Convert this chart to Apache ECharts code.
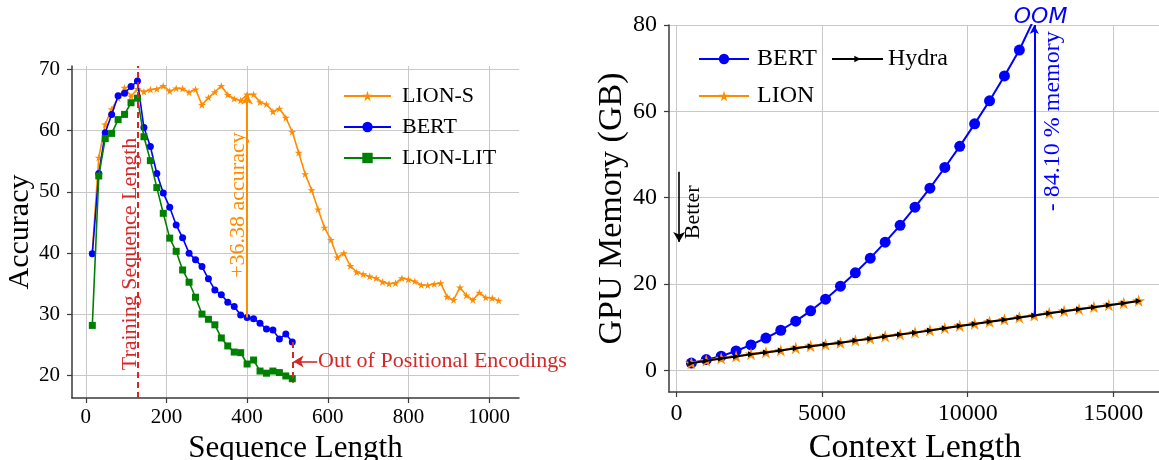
<!DOCTYPE html>
<html><head><meta charset="utf-8">
<script src="https://cdn.jsdelivr.net/npm/echarts@6/dist/echarts.min.js"></script>
<style>html,body{margin:0;padding:0;background:#fff}#c{width:1159px;height:460px}</style>
</head><body><div id="c"></div>
<script>
// ---------------- data: left panel ----------------
const seqLenShort = [16,32,48,64,80,96,112,128,144,160,176,192,208,224,240,256,272,288,304,320,336,352,368,384,400,416,432,448,464,480,496,512];
const seqLenLong = [16,32,48,64,80,96,112,128,144,160,176,192,208,224,240,256,272,288,304,320,336,352,368,384,400,416,432,448,464,480,496,512,
  528,544,560,576,592,608,624,640,656,672,688,704,720,736,752,768,784,800,816,832,848,864,880,896,912,928,944,960,976,992,1008,1024];
const lionS = [40.2,55.6,61.0,63.5,65.3,67.0,65.6,66.8,66.35,66.7,66.8,67.3,66.45,66.9,66.85,66.25,66.75,64.2,65.4,66.3,67.3,65.85,65.2,64.9,65.9,65.9,64.65,64.3,63.1,63.6,62.1,59.8,
  56.4,52.9,50.3,47.15,44.15,42.15,39.3,40.0,37.9,36.9,36.55,36.2,35.9,35.3,35.0,35.1,35.9,35.7,35.4,34.8,34.75,34.95,35.1,32.9,32.35,34.4,33.1,32.35,33.55,32.75,32.65,32.25];
const bertAcc = [39.9,53.0,59.65,62.65,65.7,66.1,67.2,68.1,60.5,57.4,53.0,49.8,47.5,44.6,42.5,40.0,38.9,37.8,35.8,34.0,33.2,32.0,31.3,29.9,29.5,29.3,28.55,27.6,27.45,26.0,26.8,25.5];
const lionLit = [28.2,52.6,58.7,59.55,61.8,62.65,64.55,65.3,59.0,55.1,50.7,46.5,42.45,40.3,37.25,35.25,32.8,30.05,29.2,28.3,26.15,24.85,23.85,23.75,21.9,22.55,20.75,20.4,20.75,20.5,19.95,19.5];
const accTicks = [20,30,40,50,60,70];
const seqTicks = [0,200,400,600,800,1000];
const trainLen = 128, compareLen = 400, posLimit = 512;
const gainLow = 29.5, gainHigh = 65.9, posBottom = 18.85;

// ---------------- data: right panel ----------------
const ctxLen = [512,1024,1536,2048,2560,3072,3584,4096,4608,5120,5632,6144,6656,7168,7680,8192,8704,9216,9728,10240,10752,11264,11776,12288,12800,13312,13824,14336,14848,15360,15872];
const bertMem = [1.7,2.5,3.3,4.5,5.9,7.5,9.3,11.4,13.8,16.5,19.5,22.6,26.0,29.7,33.6,37.8,42.2,47.0,51.9,57.1,62.45,68.2,74.2,81.5];
const lionMem = [1.7,2.3,2.8,3.25,3.8,4.2,4.65,5.2,5.65,6.0,6.4,6.95,7.4,7.9,8.35,8.8,9.3,9.8,10.35,10.8,11.3,11.8,12.3,12.75,13.3,13.75,14.2,14.7,15.15,15.6,16.15];
const hydraMem = [1.65,2.25,2.75,3.2,3.75,4.15,4.6,5.15,5.6,6.0,6.4,6.9,7.35,7.85,8.3,8.75,9.25,9.75,10.3,10.75,11.25,11.75,12.25,12.7,13.25,13.7,14.15,14.65,15.1,15.55,16.1];
const memTicks = [0,20,40,60,80];
const ctxTicks = [0,5000,10000,15000];
const oomLen = 12288, oomLow = 12.75, oomTop = 80;
const betterX = 93, betterFrom = 46, betterTo = 29.75;

const SERIF = '"Liberation Serif", "DejaVu Serif", serif';
const STAR = 'path://M0,-10L2.245,-3.09L9.511,-3.09L3.633,1.18L5.878,8.09L0,3.82L-5.878,8.09L-3.633,1.18L-9.511,-3.09L-2.245,-3.09Z';
const ORANGE = '#ff8c00', BLUE = '#0000ff', GREEN = '#008000', RED = '#d62728';
const pairs = (xs, ys) => ys.map((y, i) => [xs[i], y]);

function axis(extra, fs, ticks, margin) {
  return Object.assign({
    type: 'value',
    axisLine: {show: true, onZero: false, lineStyle: {color: '#3a3a3a', width: 1.5}},
    axisTick: {show: true, inside: false, length: 5, customValues: ticks, lineStyle: {color: '#3a3a3a', width: 1.2}},
    splitLine: {show: true, lineStyle: {color: '#c8c8c8', width: 1}},
    axisLabel: {color: '#000', fontFamily: SERIF, fontSize: fs, customValues: ticks, margin: margin,
      formatter: v => String(v)},
    nameLocation: 'middle',
  }, extra);
}

const chart = echarts.init(document.getElementById('c'), null, {renderer: 'canvas'});
const option = {
  animation: false,
  backgroundColor: '#fff',
  grid: [
    {left: 72, top: 66, width: 447, height: 332, outerBoundsMode: 'none', containLabel: false},
    {left: 669, top: 25, width: 492, height: 367, outerBoundsMode: 'none', containLabel: false}
  ],
  xAxis: [
    axis({gridIndex: 0, min: -34.4, max: 1074.4, name: 'Sequence Length', nameGap: 49,
      nameTextStyle: {fontFamily: SERIF, fontSize: 31, color: '#000', verticalAlign: 'middle'}}, 21, seqTicks, 9),
    axis({gridIndex: 1, min: -256, max: 16640, name: 'Context Length', nameGap: 53,
      nameTextStyle: {fontFamily: SERIF, fontSize: 34, color: '#000', verticalAlign: 'middle'}}, 24, ctxTicks, 10)
  ],
  yAxis: [
    axis({gridIndex: 0, min: 16.35, max: 70.55, name: 'Accuracy', nameGap: 50,
      nameTextStyle: {fontFamily: SERIF, fontSize: 30, color: '#000', verticalAlign: 'middle'}}, 21, accTicks, 12),
    axis({gridIndex: 1, min: -5, max: 80, name: 'GPU Memory (GB)', nameGap: 55,
      nameTextStyle: {fontFamily: SERIF, fontSize: 34, color: '#000', verticalAlign: 'middle'}}, 24, memTicks, 12)
  ],
  legend: [
    {left: 338, top: 80, orient: 'vertical', itemWidth: 47, itemHeight: 13, itemGap: 9, selectedMode: false,
      textStyle: {fontFamily: SERIF, fontSize: 22, color: '#000', padding: [0, 0, 0, 6]},
      data: ['LION-S', 'BERT', 'LION-LIT']},
    {left: 693, top: 42, orient: 'vertical', itemWidth: 50, itemHeight: 13, itemGap: 13, selectedMode: false,
      textStyle: {fontFamily: SERIF, fontSize: 24, color: '#000', padding: [0, 0, 0, 3]},
      data: ['BERT ', 'LION']},
    {left: 826, top: 42, orient: 'vertical', itemWidth: 51, itemHeight: 8, selectedMode: false,
      textStyle: {fontFamily: SERIF, fontSize: 24, color: '#000', padding: [0, 0, 0, 0]},
      data: ['Hydra']}
  ],
  series: [
    {name: 'LION-S', type: 'line', xAxisIndex: 0, yAxisIndex: 0, data: pairs(seqLenLong, lionS),
      color: ORANGE, symbol: STAR, symbolSize: 8, symbolKeepAspect: true, lineStyle: {width: 1.6, color: ORANGE},
      itemStyle: {color: ORANGE}, z: 2,
      markLine: {silent: true, symbol: 'none', label: {show: false}, animation: false,
        data: [
          {xAxis: trainLen, lineStyle: {color: RED, type: [6, 4], width: 2}},
          [{coord: [compareLen, gainLow], symbol: 'none', lineStyle: {color: ORANGE, type: 'solid', width: 2}},
           {coord: [compareLen, gainHigh], symbol: 'arrow', symbolSize: [9, 10]}],
          [{coord: [posLimit, bertAcc[bertAcc.length - 1]], symbol: 'none', lineStyle: {color: RED, type: [6, 4], width: 2}},
           {coord: [posLimit, posBottom], symbol: 'none'}],
          [{coord: [574, 22.3], symbol: 'none', lineStyle: {color: RED, type: 'solid', width: 1.6}},
           {coord: [posLimit + 3, 22.3], symbol: 'arrow', symbolSize: [9, 10]}]
        ]}},
    {name: 'BERT', type: 'line', xAxisIndex: 0, yAxisIndex: 0, data: pairs(seqLenShort, bertAcc),
      color: BLUE, symbol: 'circle', symbolSize: 7, lineStyle: {width: 1.6, color: BLUE}, itemStyle: {color: BLUE}, z: 3},
    {name: 'LION-LIT', type: 'line', xAxisIndex: 0, yAxisIndex: 0, data: pairs(seqLenShort, lionLit),
      color: GREEN, symbol: 'rect', symbolSize: 7, lineStyle: {width: 1.6, color: GREEN}, itemStyle: {color: GREEN}, z: 4},

    {name: 'BERT ', type: 'line', xAxisIndex: 1, yAxisIndex: 1, data: pairs(ctxLen, bertMem), clip: true,
      color: BLUE, symbol: 'circle', symbolSize: 11, lineStyle: {width: 2, color: BLUE}, itemStyle: {color: BLUE}, z: 2},
    {name: 'LION', type: 'line', xAxisIndex: 1, yAxisIndex: 1, data: pairs(ctxLen, lionMem),
      color: ORANGE, symbol: STAR, symbolSize: 13, symbolKeepAspect: true, lineStyle: {width: 2, color: ORANGE},
      itemStyle: {color: ORANGE}, z: 3,
      markLine: {silent: true, symbol: 'none', label: {show: false}, animation: false,
        data: [
          [{coord: [oomLen, oomLow], symbol: 'none', lineStyle: {color: BLUE, type: 'solid', width: 2}},
           {coord: [oomLen, oomTop], symbol: 'arrow', symbolSize: [7, 9]}],
          [{coord: [betterX, betterFrom], symbol: 'none', lineStyle: {color: '#000', type: 'solid', width: 1.6}},
           {coord: [betterX, betterTo], symbol: 'arrow', symbolSize: [9, 10]}]
        ]}},
    {name: 'Hydra', type: 'line', xAxisIndex: 1, yAxisIndex: 1, data: pairs(ctxLen, hydraMem),
      color: '#000', symbol: 'triangle', symbolRotate: -90, symbolSize: 6, lineStyle: {width: 2, color: '#000'},
      itemStyle: {color: '#000'}, z: 4}
  ]
};
chart.setOption(option);

function txt(grid, pt, text, color, fs, rot, family, style, align) {
  const p = chart.convertToPixel({gridIndex: grid}, pt);
  return {type: 'text', x: p[0], y: p[1], rotation: rot, silent: true, z: 100,
    style: {text: text, fill: color, fontSize: fs, fontFamily: family || SERIF, fontStyle: style || 'normal',
      align: align || 'center', verticalAlign: 'middle', textAlign: align || 'center', textVerticalAlign: 'middle'}};
}
const R = Math.PI / 2;
chart.setOption({graphic: [
  txt(0, [110, 39.86], 'Training Sequence Length', RED, 22, R),
  txt(0, [378.4, 47.85], '+36.38 accuracy', ORANGE, 22, R),
  txt(0, [576, 22.3], 'Out of Positional Encodings', RED, 22, 0, SERIF, 'normal', 'left'),
  txt(1, [12505, 81.9], 'OOM', BLUE, 22, 0, '"DejaVu Sans", sans-serif', 'italic'),
  txt(1, [12917, 57.7], '- 84.10 % memory', BLUE, 24, R),
  txt(1, [573, 36.6], 'Better', '#000', 22, R)
]});
</script></body></html>
